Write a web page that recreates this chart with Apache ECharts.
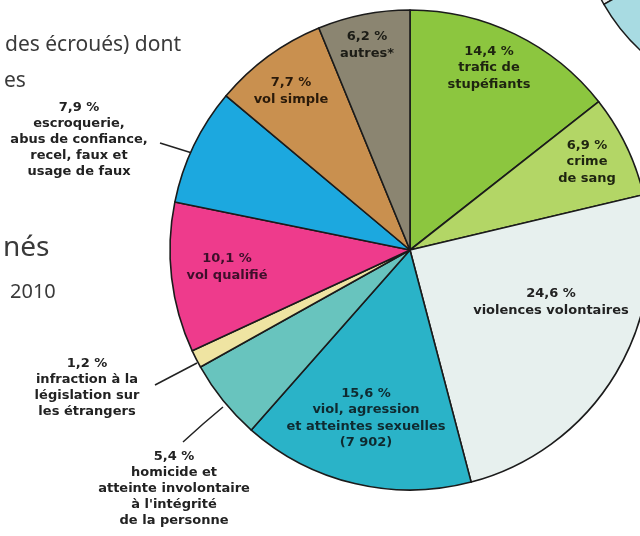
<!DOCTYPE html>
<html>
<head>
<meta charset="utf-8">
<script src="https://cdn.jsdelivr.net/npm/echarts@6/dist/echarts.min.js"></script>
<style>
  html, body { margin: 0; padding: 0; background: #ffffff; }
  #chart { width: 640px; height: 536px; }
</style>
</head>
<body>
<div id="chart"></div>
<script>
// ---- Data ----
const categories = [
  'trafic de\nstupéfiants',
  'crime\nde sang',
  'violences volontaires',
  'viol, agression\net atteintes sexuelles\n(7 902)',
  'homicide et\natteinte involontaire\nà l\'intégrité\nde la personne',
  'infraction à la\nlégislation sur\nles étrangers',
  'vol qualifié',
  'escroquerie,\nabus de confiance,\nrecel, faux et\nusage de faux',
  'vol simple',
  'autres*'
];
const shares = [14.4, 6.9, 24.6, 15.6, 5.4, 1.2, 10.1, 7.9, 7.7, 6.2];
const sliceColors = ['#8cc63f', '#b3d666', '#e7f0ee', '#2ab3c8', '#68c4be', '#efe4a2', '#ee3b8c', '#1ca8df', '#c9904f', '#8b8571'];
const labelColors = ['#1e2410', '#1e2410', '#222222', '#0f2a30', '#222222', '#222222', '#3d0f2a', '#222222', '#2a1a0a', '#1c1c16'];
const outsideIdx = [4, 5, 7];

// neighbouring chart fragment (top-right corner)
const otherShares = [20, 80];
const otherColors = ['#eceeed', '#a8dbe2'];

// ---- layout ----
const CX = 410, CY = 250, R = 240;
// label block centres (page coordinates)
const labelCentres = [
  [489, 68], [587, 162], [551, 302], [366, 418], [174, 489],
  [87, 388], [227, 267], [79, 140], [291, 91], [367, 45]
];
const leaderLines = {
  4: [[223, 407], [203, 424], [183, 442]],
  5: [[197, 363], [176, 374], [155, 385]],
  7: [[192, 153], [176, 148], [160, 143]]
};

function fmtPct(v) { return v.toFixed(1).replace('.', ',') + ' %'; }

const pieData = shares.map((v, i) => {
  const outside = outsideIdx.indexOf(i) >= 0;
  return {
    value: v,
    name: categories[i],
    itemStyle: { color: sliceColors[i] },
    label: {
      position: outside ? 'outside' : 'inside',
      color: labelColors[i],
      fontSize: 13,
      lineHeight: outside ? 16 : 16.5
    },
    labelLine: { show: outside }
  };
});

const chart = echarts.init(document.getElementById('chart'), null, { renderer: 'canvas' });
chart.setOption({
  backgroundColor: '#ffffff',
  animation: false,
  graphic: [
    { type: 'text', left: 5, top: 35, style: { text: 'des écroués) dont', font: '21px "Noto Sans"', fill: '#3a3a3a' } },
    { type: 'text', left: 4, top: 71, style: { text: 'es', font: '21px "Noto Sans"', fill: '#3a3a3a' } },
    { type: 'text', left: 3, top: 234, style: { text: 'nés', font: '28px "Noto Sans"', fill: '#3a3a3a' } },
    { type: 'text', left: 10, top: 282, style: { text: '2010', font: '20px "Noto Sans"', fill: '#3a3a3a' } }
  ],
  series: [
    {
      type: 'pie',
      center: [770, -90],
      radius: 191,
      startAngle: 209.6,
      silent: true,
      label: { show: false },
      labelLine: { show: false },
      itemStyle: { borderColor: '#1b1b1b', borderWidth: 1.5 },
      data: otherShares.map((v, i) => ({ value: v, itemStyle: { color: otherColors[i] } }))
    },
    {
      type: 'pie',
      center: [CX, CY],
      radius: R,
      startAngle: 90,
      clockwise: true,
      avoidLabelOverlap: false,
      itemStyle: { borderColor: '#1b1b1b', borderWidth: 1.6 },
      label: {
        show: true,
        fontFamily: 'DejaVu Sans',
        fontWeight: 'bold',
        align: 'center',
        formatter: (p) => fmtPct(p.value) + '\n' + p.name
      },
      labelLine: { lineStyle: { color: '#222222', width: 1.5 } },
      labelLayout: function (params) {
        const i = params.dataIndex;
        const c = labelCentres[i];
        const res = { x: c[0], y: c[1], align: 'center', verticalAlign: 'middle' };
        if (leaderLines[i]) res.labelLinePoints = leaderLines[i];
        return res;
      },
      data: pieData
    }
  ]
});
</script>
</body>
</html>
